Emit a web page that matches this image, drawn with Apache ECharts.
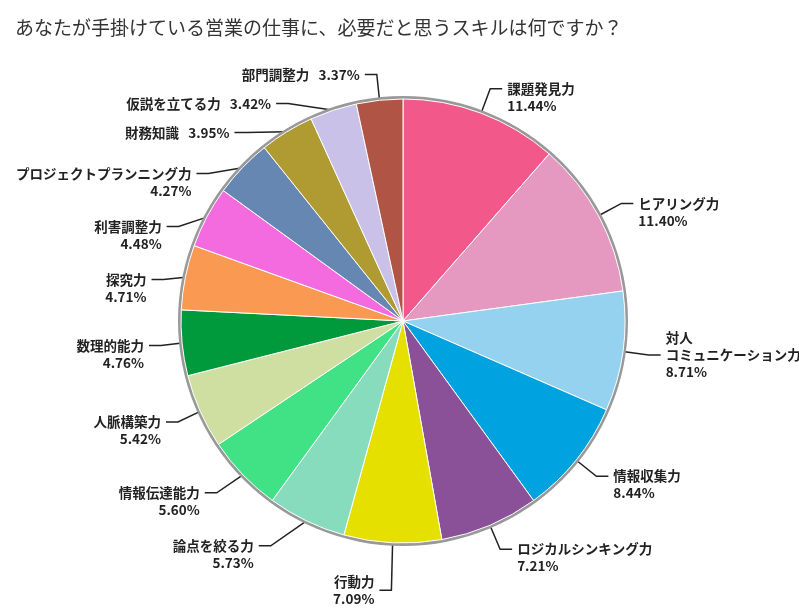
<!DOCTYPE html>
<html><head><meta charset="utf-8">
<script src="https://cdn.jsdelivr.net/npm/echarts@6/dist/echarts.min.js"></script>
<style>html,body{margin:0;padding:0;background:#fff}#c{width:799px;height:612px}</style>
</head><body><div id="c"></div>
<script>
const titleText = 'あなたが手掛けている営業の仕事に、必要だと思うスキルは何ですか？';
const categories = ['課題発見力','ヒアリング力','対人\nコミュニケーション力','情報収集力','ロジカルシンキング力','行動力','論点を絞る力','情報伝達能力','人脈構築力','数理的能力','探究力','利害調整力','プロジェクトプランニング力','財務知識','仮説を立てる力','部門調整力'];
const values = [11.44,11.40,8.71,8.44,7.21,7.09,5.73,5.60,5.42,4.76,4.71,4.48,4.27,3.95,3.42,3.37];
const colors = ['#F2588A','#E598C0','#94D2F0','#00A2E0','#8A5199','#E6E000','#88DCBE','#40E285','#CFDFA2','#00993B','#FA9A52','#F46BDF','#6687B2','#B09B33','#C9C1E8','#B05545'];
const singleLine = ['財務知識','仮説を立てる力','部門調整力'];
const centeredLabels = ['対人\nコミュニケーション力','行動力'];

const data = categories.map((n,i)=>{
  const d = {name:n,value:values[i],itemStyle:{color:colors[i]}};
  if (singleLine.includes(n)) d.label = {padding:[5,0,5,0]};
  return d;
});
function fmt(p){
  const pct = p.value.toFixed(2)+'%';
  if (singleLine.includes(p.name)) return p.name+'   '+pct;
  if (centeredLabels.includes(p.name)) return p.name+'\n'+pct;
  return ' \n'+p.name+'\n'+pct;
}
const chart = echarts.init(document.getElementById('c'));
chart.setOption({
  animation:false,
  title:{text:titleText,left:10,top:13,textStyle:{fontFamily:'Noto Sans CJK JP',fontSize:19,fontWeight:'normal',color:'#333'}},
  series:[
    {type:'pie',radius:[0,225],center:[403,321],silent:true,label:{show:false},data:[{value:1,itemStyle:{color:'#999'}}]},
    {type:'pie',radius:[0,222],center:[403,321],startAngle:90,clockwise:true,
    itemStyle:{borderColor:'#fff',borderWidth:1},
    label:{fontFamily:'Noto Sans CJK JP',fontSize:13.5,fontWeight:'bold',color:'#222',align:'center',lineHeight:17,overflow:'none',formatter:fmt},
    labelLine:{length:26,length2:12,lineStyle:{color:'#222',width:1.5}},
    data:data}
  ]
});
</script></body></html>
